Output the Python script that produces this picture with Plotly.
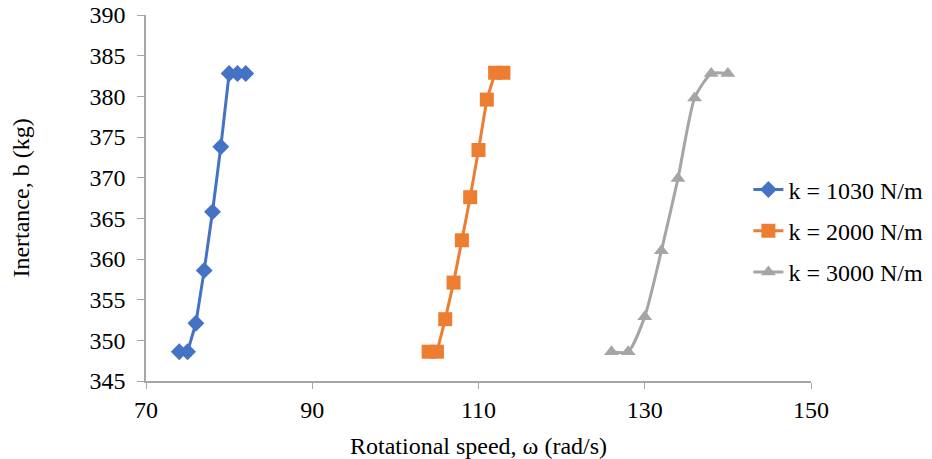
import plotly.graph_objects as go

# Data
blue_x = [74, 75, 76, 77, 78, 79, 80, 81, 82]
blue_y = [348.6, 348.6, 352.1, 358.6, 365.8, 373.8, 382.8, 382.8, 382.8]

orange_x = [104, 105, 106, 107, 108, 109, 110, 111, 112, 113]
orange_y = [348.6, 348.6, 352.6, 357.1, 362.3, 367.6, 373.4, 379.6, 382.9, 382.9]

gray_x = [126, 128, 130, 132, 134, 136, 138, 140]
gray_y = [348.6, 348.6, 352.9, 361.0, 369.9, 379.8, 382.8, 382.8]

names = ["k = 1030 N/m", "k = 2000 N/m", "k = 3000 N/m"]
x_ticks = [70, 90, 110, 130, 150]
y_ticks = [345, 350, 355, 360, 365, 370, 375, 380, 385, 390]

FONT = "Liberation Serif"
FS = 24

fig = go.Figure()
fig.add_trace(go.Scatter(
    x=blue_x, y=blue_y, name=names[0], mode="lines+markers", legendgroup="a",
    line=dict(color="#4472C4", width=3),
    marker=dict(symbol="diamond", size=13, color="#4472C4")))
fig.add_trace(go.Scatter(
    x=orange_x, y=orange_y, name=names[1], mode="lines+markers", legendgroup="b",
    line=dict(color="#ED7D31", width=3),
    marker=dict(symbol="square", size=14, color="#ED7D31")))
fig.add_trace(go.Scatter(
    x=gray_x, y=gray_y, name=names[2], mode="lines+markers", legendgroup="c",
    line=dict(color="#A5A5A5", width=3, shape="spline", smoothing=0.6),
    marker=dict(symbol="triangle-up", size=13, color="#A5A5A5")))

fig.update_layout(
    width=932, height=459,
    margin=dict(l=146, r=121, t=15, b=78, autoexpand=False),
    paper_bgcolor="white", plot_bgcolor="white",
    font=dict(family=FONT, size=FS, color="#000000"),
    showlegend=True,
    legend=dict(xref="container", yref="container", x=0.803, xanchor="left",
                y=0.497, yanchor="middle",
                font=dict(family=FONT, size=FS), tracegroupgap=7,
                bgcolor="rgba(0,0,0,0)"),
)
fig.update_xaxes(
    range=[70, 150], tickvals=x_ticks, ticktext=[str(v) for v in x_ticks],
    showgrid=False, zeroline=False, showline=True, linecolor="#A6A6A6", linewidth=1.5,
    ticks="outside", ticklen=6, tickcolor="#A6A6A6",
    tickfont=dict(family=FONT, size=FS),
    title=dict(text="Rotational speed, ω (rad/s)", standoff=18,
               font=dict(family=FONT, size=FS)))
fig.update_yaxes(
    range=[345, 390], tickvals=y_ticks, ticktext=[str(v) for v in y_ticks],
    showgrid=False, zeroline=False, showline=True, linecolor="#A6A6A6", linewidth=1.5,
    ticks="outside", ticklen=7, tickcolor="#A6A6A6", ticklabelstandoff=7,
    tickfont=dict(family=FONT, size=FS),
    title=dict(text="Inertance, b (kg)", standoff=53,
               font=dict(family=FONT, size=FS)))

fig.write_html("out.html", config={"displayModeBar": False},
               post_script="document.body.style.margin='0px';")
